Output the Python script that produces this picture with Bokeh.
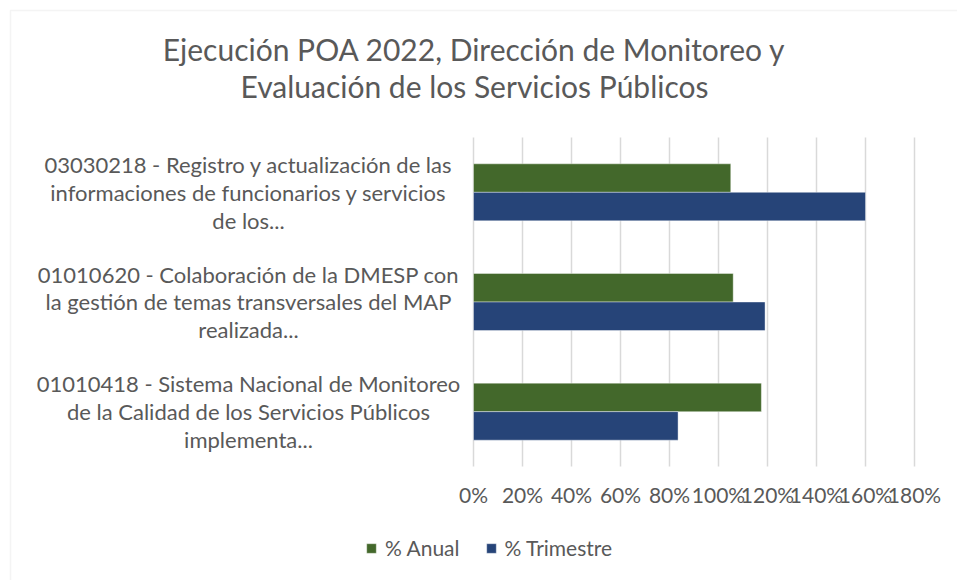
from bokeh.plotting import figure
from bokeh.models import (Range1d, FixedTicker, NumeralTickFormatter, Label,
                          Legend, LegendItem, BoxAnnotation, ColumnDataSource,
                          LinearAxis)
from bokeh.embed import file_html
from bokeh.resources import INLINE

# ---- data ----
categories = [
    "01010418 - Sistema Nacional de Monitoreo\nde la Calidad de los Servicios Públicos\nimplementa...",
    "01010620 - Colaboración de la DMESP con\nla gestión de temas transversales del MAP\nrealizada...",
    "03030218 - Registro y actualización de las\ninformaciones de funcionarios y servicios\nde los...",
]
anual = [1.175, 1.06, 1.05]
trimestre = [0.835, 1.19, 1.60]
x_ticks = [0, 0.2, 0.4, 0.6, 0.8, 1.0, 1.2, 1.4, 1.6, 1.8]
title_lines = ["Ejecución POA 2022, Dirección de Monitoreo y",
               "Evaluación de los Servicios Públicos"]
series_names = ["% Anual", "% Trimestre"]

GREEN = "#43682B"
BLUE = "#264478"
TXT = "#595959"
GRID = "#d9d9d9"
FONT = "Lato"

W, H = 957, 580
# plot-area geometry in canvas pixels
PL, PR, PT, PB = 473, 914, 137, 466
x0, x1 = x_ticks[0], x_ticks[-1]
n = len(categories)
y0, y1 = -0.5, n - 0.5
kx = (PR - PL) / (x1 - x0)
ky = (PB - PT) / (y1 - y0)

p = figure(width=W, height=H, output_backend="svg", toolbar_location=None,
           x_range=Range1d(x0 - PL / kx, x1 + (W - PR) / kx),
           y_range=Range1d(y0 - (H - PB) / ky, y1 + PT / ky),
           x_axis_location=None, y_axis_location=None,
           min_border=0)
p.outline_line_color = None
p.background_fill_color = "white"
p.border_fill_color = "white"
p.xgrid.visible = False
p.ygrid.visible = False

# grid lines limited to the plot area
p.segment(x0=x_ticks, y0=[y0] * len(x_ticks), x1=x_ticks, y1=[y1] * len(x_ticks),
          line_color=GRID, line_width=1.5)

idx = list(range(n))
bar_h = 0.26
src = ColumnDataSource(dict(
    y_a=[i + bar_h / 2 for i in idx],
    y_t=[i - bar_h / 2 for i in idx],
    anual=anual, trimestre=trimestre,
))
r_a = p.hbar(y="y_a", right="anual", left=0, height=bar_h, source=src,
             fill_color=GREEN, line_color="white", line_alpha=0.5, line_width=0.8)
r_t = p.hbar(y="y_t", right="trimestre", left=0, height=bar_h, source=src,
             fill_color=BLUE, line_color="white", line_alpha=0.5, line_width=0.8)

# x axis at the bottom of the plot area
xa = LinearAxis(fixed_location=y0, ticker=FixedTicker(ticks=x_ticks),
                formatter=NumeralTickFormatter(format="0%"))
xa.axis_line_color = None
xa.major_tick_line_color = None
xa.minor_tick_line_color = None
xa.major_label_text_font = FONT
xa.major_label_text_font_size = "21px"
xa.major_label_text_color = TXT
xa.major_label_standoff = 9
p.add_layout(xa, "below")

# category labels
for i, c in zip(idx, categories):
    p.add_layout(Label(x=248, x_units="screen", y=i, y_units="data", text=c,
                       text_align="center", text_baseline="middle",
                       text_font=FONT, text_font_size="22px", text_color=TXT,
                       text_line_height=1.03))

# title
for k, t in enumerate(title_lines):
    p.add_layout(Label(x=474, x_units="screen", y=H - 48 - 37 * k, y_units="screen",
                       text=t, text_align="center", text_baseline="alphabetic",
                       text_font=FONT, text_font_size="30px", text_color=TXT))

# legend
legend = Legend(items=[LegendItem(label=series_names[0], renderers=[r_a]),
                       LegendItem(label=series_names[1], renderers=[r_t])],
                location=(365, 20), orientation="horizontal",
                label_text_font=FONT, label_text_font_size="21px",
                label_text_color=TXT, glyph_width=12, glyph_height=12,
                label_standoff=8, spacing=25, padding=0, margin=0,
                border_line_color=None, background_fill_alpha=0)
p.add_layout(legend)

# chart border
p.add_layout(BoxAnnotation(left=10, top=H - 10, right=W + 50, bottom=-50,
                           left_units="screen", right_units="screen",
                           top_units="screen", bottom_units="screen",
                           fill_alpha=0, line_color=GRID, line_width=1.5))

open("out.html", "w").write(file_html(p, INLINE))
